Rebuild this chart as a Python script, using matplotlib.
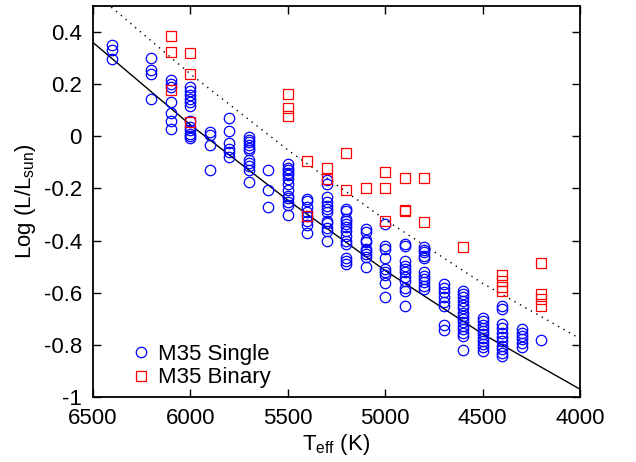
import matplotlib
matplotlib.use("Agg")
import matplotlib.pyplot as plt
import numpy as np

plt.rcParams['font.family'] = ['Liberation Sans', 'DejaVu Sans']
plt.rcParams['mathtext.fontset'] = 'custom'
plt.rcParams['mathtext.rm'] = 'Liberation Sans'
plt.rcParams['mathtext.it'] = 'Liberation Sans:italic'
plt.rcParams['axes.unicode_minus'] = False

# ---- data: single stars (Teff column, logL values) ----
single_teff = [6400, 6200, 6100, 6000, 5900, 5800, 5700, 5600, 5500, 5400, 5300,
               5200, 5100, 5000, 4900, 4800, 4700, 4600, 4500, 4400, 4300, 4200]
single_logl = [
    [0.35, 0.33, 0.295],
    [0.30, 0.255, 0.24, 0.145],
    [0.215, 0.20, 0.19, 0.13, 0.09, 0.06, 0.03],
    [0.19, 0.175, 0.16, 0.145, 0.13, 0.115, 0.06, 0.035, 0.025, 0.01, 0.0, -0.005],
    [0.017, 0.006, -0.035, -0.128],
    [0.072, 0.02, -0.027, -0.047, -0.06, -0.08],
    [-0.003, -0.013, -0.022, -0.032, -0.043, -0.054, -0.092, -0.103, -0.115, -0.128, -0.176],
    [-0.131, -0.205, -0.272],
    [-0.108, -0.12, -0.131, -0.141, -0.15, -0.163, -0.182, -0.205, -0.227, -0.236, -0.253, -0.262, -0.30],
    [-0.24, -0.249, -0.272, -0.291, -0.304, -0.323, -0.342, -0.372],
    [-0.169, -0.182, -0.233, -0.25, -0.269, -0.278, -0.291, -0.323, -0.333, -0.351, -0.364, -0.40],
    [-0.278, -0.287, -0.317, -0.326, -0.336, -0.349, -0.364, -0.381, -0.40, -0.413, -0.467, -0.477, -0.49],
    [-0.355, -0.368, -0.397, -0.406, -0.432, -0.441, -0.451, -0.462, -0.503],
    [-0.336, -0.419, -0.432, -0.467, -0.509, -0.519, -0.531, -0.564, -0.618],
    [-0.413, -0.419, -0.477, -0.496, -0.509, -0.522, -0.538, -0.554, -0.582, -0.595, -0.65],
    [-0.426, -0.436, -0.445, -0.458, -0.467, -0.522, -0.535, -0.547, -0.56, -0.573, -0.586],
    [-0.567, -0.582, -0.599, -0.615, -0.635, -0.65, -0.723, -0.743],
    [-0.592, -0.605, -0.618, -0.633, -0.646, -0.659, -0.676, -0.688, -0.701, -0.714, -0.727, -0.74, -0.753, -0.765, -0.82],
    [-0.698, -0.71, -0.723, -0.736, -0.746, -0.759, -0.772, -0.785, -0.797, -0.81, -0.823],
    [-0.65, -0.663, -0.72, -0.736, -0.753, -0.769, -0.785, -0.804, -0.817, -0.83, -0.842],
    [-0.74, -0.753, -0.765, -0.778, -0.791, -0.81],
    [-0.782],
]

# ---- data: binary stars ----
binary_teff = [6100, 6000, 5500, 5400, 5300, 5200, 5100, 5000, 4900, 4800, 4600, 4400, 4200]
binary_logl = [
    [0.385, 0.324, 0.177],
    [0.320, 0.238, 0.055],
    [0.164, 0.107, 0.077],
    [-0.095, -0.304],
    [-0.12, -0.165],
    [-0.064, -0.205],
    [-0.199],
    [-0.137, -0.199, -0.323],
    [-0.159, -0.282, -0.287],
    [-0.159, -0.33],
    [-0.426],
    [-0.531, -0.554, -0.577, -0.595],
    [-0.486, -0.605, -0.625, -0.65],
]

# ---- reference sequences ----
seq_teff = [6500, 6000, 5500, 5000, 4500, 4000]
single_seq = [0.36, 0.044, -0.245, -0.515, -0.758, -0.97]
binary_seq = [0.555, 0.239, -0.052, -0.32, -0.564, -0.776]

xticks = [6500, 6000, 5500, 5000, 4500, 4000]
yticks = [-1, -0.8, -0.6, -0.4, -0.2, 0, 0.2, 0.4]
ytick_labels = ['-1', '-0.8', '-0.6', '-0.4', '-0.2', '0', '0.2', '0.4']

fig = plt.figure(figsize=(6.36, 4.62), dpi=100)
ax = fig.add_axes([93/636, 1 - 397/462, 487/636, 391/462])

sx = np.concatenate([[t] * len(v) for t, v in zip(single_teff, single_logl)])
sy = np.concatenate(single_logl)
bx = np.concatenate([[t] * len(v) for t, v in zip(binary_teff, binary_logl)])
by = np.concatenate(binary_logl)

ax.plot(seq_teff, single_seq, color='black', lw=1.0)
ax.plot(seq_teff, binary_seq, color='black', lw=1.0, linestyle=(0, (1, 3.5)))

ax.plot(sx, sy, linestyle='none', marker='o', markersize=7.5, markerfacecolor='none',
        markeredgecolor='#0000ff', markeredgewidth=0.9, label='M35 Single')
ax.plot(bx, by, linestyle='none', marker='s', markersize=7.5, markerfacecolor='none',
        markeredgecolor='#ff0000', markeredgewidth=0.9, label='M35 Binary')

ax.set_xlim(6500, 4000)
ax.set_ylim(-1, 0.5)
ax.set_xticks(xticks)
ax.set_xticklabels([str(t) for t in xticks])
ax.set_yticks(yticks)
ax.set_yticklabels(ytick_labels)
ax.tick_params(direction='in', length=6, width=1, top=True, right=True,
               labelsize=16, pad=8)
for s in ax.spines.values():
    s.set_linewidth(1.3)

ax.set_xlabel(r'T$_{\mathrm{eff}}$ (K)', fontsize=16, labelpad=2)
ax.set_ylabel(r'Log (L/L$_{\mathrm{sun}}$)', fontsize=16, labelpad=4)

ax.legend(loc='lower left', bbox_to_anchor=(0.043, -0.018), frameon=False, fontsize=16,
          handletextpad=0.3, labelspacing=0.1, handlelength=1.0, borderaxespad=0.3)

fig.savefig('out.png', dpi=100)
